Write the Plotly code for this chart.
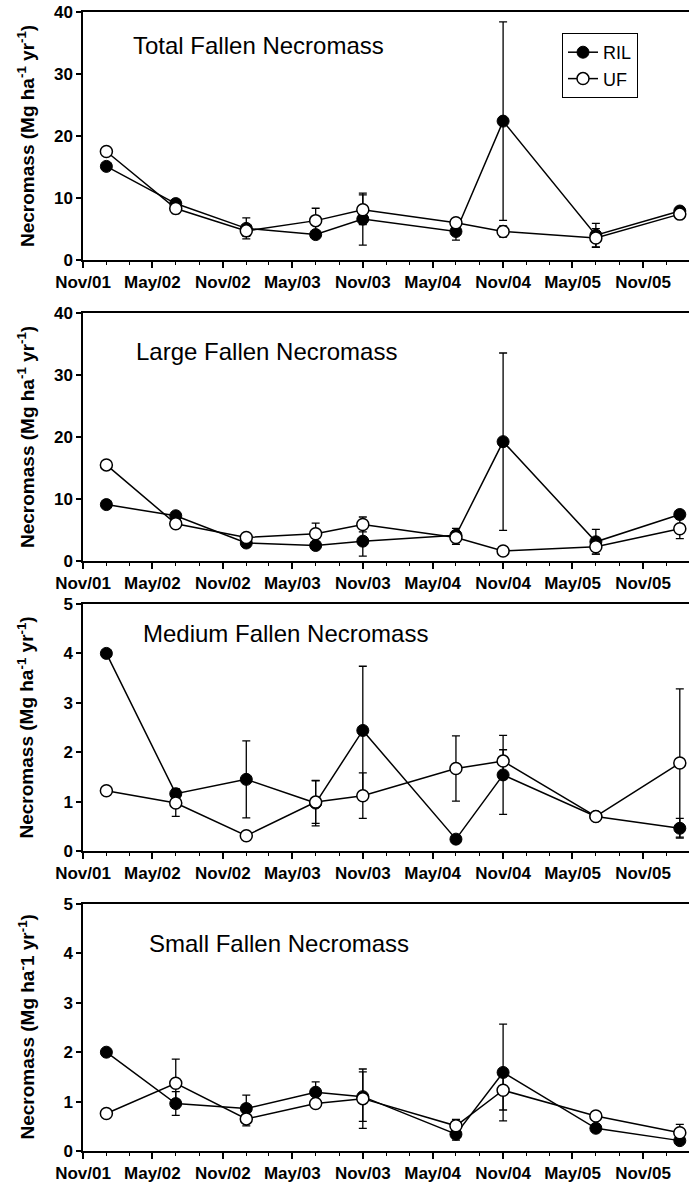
import plotly.graph_objects as go

# ---------------- data ----------------
dates = ["2002-01-01", "2002-07-01", "2003-01-01", "2003-07-01", "2003-11-01",
         "2004-07-01", "2004-11-01", "2005-07-01", "2006-02-05"]

tick_dates = ["2001-11-01", "2002-05-01", "2002-11-01", "2003-05-01", "2003-11-01",
              "2004-05-01", "2004-11-01", "2005-05-01", "2005-11-01"]
tick_labels = ["Nov/01", "May/02", "Nov/02", "May/03", "Nov/03",
               "May/04", "Nov/04", "May/05", "Nov/05"]

panel_titles = ["Total Fallen Necromass", "Large Fallen Necromass",
                "Medium Fallen Necromass", "Small Fallen Necromass"]

total_ril = [15.1, 9.1, 5.1, 4.1, 6.6, 4.6, 22.4, 4.0, 7.9]
total_ril_err = [0.5, 0.6, 1.7, 0.5, 4.2, 1.4, 16.0, 1.9, 0.4]
total_uf = [17.5, 8.3, 4.7, 6.35, 8.1, 6.0, 4.6, 3.55, 7.4]
total_uf_err = [0.3, 0.8, 0.9, 2.0, 2.4, 0.5, 0.9, 1.5, 0.3]

large_ril = [9.1, 7.3, 2.9, 2.5, 3.2, 4.15, 19.25, 3.1, 7.5]
large_ril_err = [0.4, 0.5, 0.4, 0.5, 2.4, 1.1, 14.3, 2.0, 0.5]
large_uf = [15.5, 6.0, 3.8, 4.4, 5.9, 3.8, 1.6, 2.3, 5.2]
large_uf_err = [0.4, 0.4, 0.4, 1.7, 1.2, 1.1, 0.5, 1.2, 1.6]

medium_ril = [4.0, 1.16, 1.45, 0.97, 2.44, 0.24, 1.54, 0.70, 0.46]
medium_ril_err = [0.05, 0.1, 0.78, 0.46, 1.3, 0.05, 0.8, 0.07, 0.2]
medium_uf = [1.22, 0.97, 0.31, 0.99, 1.12, 1.67, 1.82, 0.70, 1.78]
medium_uf_err = [0.05, 0.27, 0.08, 0.43, 0.46, 0.66, 0.23, 0.08, 1.5]

small_ril = [2.0, 0.96, 0.86, 1.19, 1.1, 0.34, 1.59, 0.46, 0.21]
small_ril_err = [0.05, 0.24, 0.27, 0.21, 0.5, 0.12, 0.98, 0.05, 0.05]
small_uf = [0.76, 1.37, 0.65, 0.96, 1.06, 0.51, 1.23, 0.71, 0.37]
small_uf_err = [0.05, 0.49, 0.14, 0.05, 0.6, 0.13, 0.4, 0.08, 0.17]

y_ranges = [[0, 40], [0, 40], [0, 5], [0, 5]]
y_dticks = [10, 10, 1, 1]

panels = [
    (total_ril, total_ril_err, total_uf, total_uf_err),
    (large_ril, large_ril_err, large_uf, large_uf_err),
    (medium_ril, medium_ril_err, medium_uf, medium_uf_err),
    (small_ril, small_ril_err, small_uf, small_uf_err),
]

y_titles = ["Necromass (Mg ha<sup>-1</sup> yr<sup>-1</sup>)"] * 3 + \
           ["Necromass (Mg ha<sup>-</sup>1 yr<sup>-1</sup>)"]

# ---------------- layout geometry (page pixels) ----------------
W, H = 689, 1187
L, R, T, B = 83, 0, 12, 36
plot_h = H - T - B
panel_px = [(12, 260), (313, 561), (604, 851), (904, 1151)]  # top, bottom
title_px = [(131, 46), (134, 352), (141, 633), (147, 943)]


def py(p):
    return (H - B - p) / plot_h


def px(p):
    return (p - L) / (W - L - R)


FONT = "Liberation Sans, Arial, sans-serif"

fig = go.Figure()
layout = dict(
    width=W, height=H,
    margin=dict(l=L, r=R, t=T, b=B, autoexpand=False),
    plot_bgcolor="white", paper_bgcolor="white",
    font=dict(family=FONT, color="black"),
    showlegend=True,
    legend=dict(x=px(562), y=py(33), xanchor="left", yanchor="top",
                bordercolor="black", borderwidth=1, bgcolor="white",
                font=dict(size=18, family=FONT), itemwidth=30,
                tracegroupgap=2),
    annotations=[],
)

for i, (ril, ril_e, uf, uf_e) in enumerate(panels):
    n = "" if i == 0 else str(i + 1)
    xa, ya = "x" + n, "y" + n
    fig.add_trace(go.Scatter(
        x=dates, y=ril, xaxis=xa, yaxis=ya, name="RIL", showlegend=(i == 0),
        mode="lines+markers",
        line=dict(color="black", width=1.5),
        marker=dict(symbol="circle", size=12, color="black",
                    line=dict(color="black", width=1)),
        error_y=dict(type="data", array=ril_e, visible=True, color="black",
                     thickness=1.3, width=4),
    ))
    fig.add_trace(go.Scatter(
        x=dates, y=uf, xaxis=xa, yaxis=ya, name="UF", showlegend=(i == 0),
        mode="lines+markers",
        line=dict(color="black", width=1.5),
        marker=dict(symbol="circle", size=12, color="white",
                    line=dict(color="black", width=1.5)),
        error_y=dict(type="data", array=uf_e, visible=True, color="black",
                     thickness=1.3, width=4),
    ))
    top, bot = panel_px[i]
    layout["xaxis" + n] = dict(
        domain=[0, 1], anchor=ya, type="date", automargin=False,
        range=["2001-11-01", "2006-03-01"],
        tickmode="array", tickvals=tick_dates, ticktext=tick_labels,
        ticks="outside", ticklen=6, tickwidth=1.5, tickcolor="black",
        showline=True, linewidth=2, linecolor="black", mirror=True,
        showgrid=False, zeroline=False,
        tickfont=dict(size=17, family=FONT, weight="bold"),
        minor=dict(ticks="outside", ticklen=3, tickwidth=1.2, tickcolor="black",
                   dtick="M2", tick0="2001-11-01", showgrid=False),
    )
    layout["yaxis" + n] = dict(
        domain=[py(bot), py(top)], anchor=xa, automargin=False,
        range=y_ranges[i], dtick=y_dticks[i], tick0=0,
        ticks="outside", ticklen=5, tickwidth=1.5, tickcolor="black",
        showline=True, linewidth=1.5, linecolor="black", mirror=False,
        showgrid=False, zeroline=False,
        tickfont=dict(size=17, family=FONT, weight="bold"),
    )
    tx, ty = title_px[i]
    layout["annotations"].append(dict(
        text=panel_titles[i], xref="paper", yref="paper",
        x=px(tx), y=py(ty), xanchor="left", yanchor="middle",
        showarrow=False, font=dict(size=24, family=FONT, color="black"),
    ))
    layout["annotations"].append(dict(
        text=y_titles[i], xref="paper", yref="paper",
        x=px(26), y=py((top + bot) / 2), xanchor="center", yanchor="middle",
        textangle=-90, showarrow=False,
        font=dict(size=19, family=FONT, color="black", weight="bold"),
    ))

fig.update_layout(**layout)
fig.write_html("out.html",
               config={"displayModeBar": False},
               post_script="document.body.style.margin='0';"
                           "document.body.style.padding='0';")
